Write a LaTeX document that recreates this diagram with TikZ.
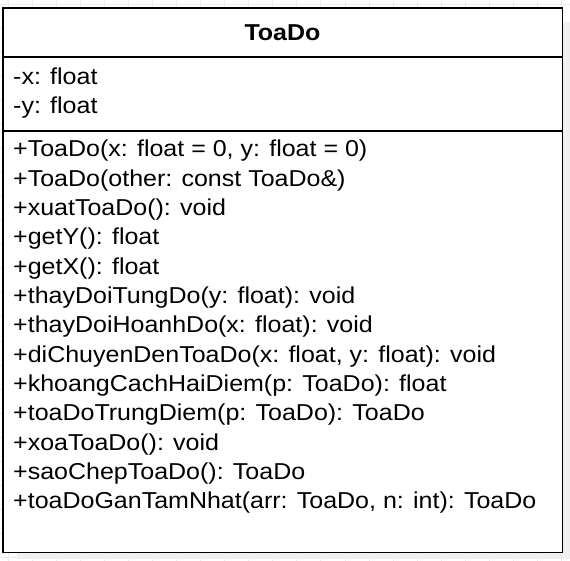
\documentclass[tikz,border=0pt]{standalone}
\usepackage{fontspec}
\setmainfont{Liberation Sans}
\usepackage{tikz}
\usetikzlibrary{positioning}
\definecolor{gridgray}{rgb}{0.92,0.92,0.92}
\definecolor{shadowgray}{rgb}{0.94,0.94,0.94}
\newcommand{\widetext}[1]{\scalebox{1.087}[1]{#1}}

\tikzset{
  member/.style={anchor=base west, inner sep=0pt, font=\fontsize{23}{29.3}\selectfont},
  classname/.style={anchor=base, inner sep=0pt, font=\fontsize{23}{29.3}\selectfont\bfseries}
}

\begin{document}
\begin{tikzpicture}[x=1pt,y=-1pt]
            \useasboundingbox (0,0) rectangle (570,561);
            \fill[white] (0,0) rectangle (570,561);
            % background grid
            \foreach \gx in {8,32.05,...,570} \draw[gridgray,thin] (\gx,0) -- (\gx,561);
            \foreach \gy in {4,28.05,...,561} \draw[gridgray,thin] (0,\gy) -- (570,\gy);

            % shadow and class box
            \fill[shadowgray] (17,22) rectangle (570,559);
            \draw[black, fill=white, line width=1.6pt] (3,8) rectangle (562.5,552.5);
            \draw[black, line width=1.6pt] (3,57) -- (562.5,57);
            \draw[black, line width=1.6pt] (3,131) -- (562.5,131);

            \node[classname] (name) at (282.5,41) {\widetext{ToaDo}};

            \node[member] (attrx) at (13,84.5) {\widetext{-x: float}};
            \node[member] (attry) at (13,113.5) {\widetext{-y: float}};

            \foreach \m [count=\i from 0] in {
                {+ToaDo(x: float = 0, y: float = 0)},
                {+ToaDo(other: const ToaDo\&)},
                {+xuatToaDo(): void},
                {+getY(): float},
                {+getX(): float},
                {+thayDoiTungDo(y: float): void},
                {+thayDoiHoanhDo(x: float): void},
                {+diChuyenDenToaDo(x: float, y: float): void},
                {+khoangCachHaiDiem(p: ToaDo): float},
                {+toaDoTrungDiem(p: ToaDo): ToaDo},
                {+xoaToaDo(): void},
                {+saoChepToaDo(): ToaDo},
                {+toaDoGanTamNhat(arr: ToaDo, n: int): ToaDo}}
              \node[member] (op\i) at (13,157+29.3*\i) {\widetext{\m}};

\end{tikzpicture}
\end{document}
